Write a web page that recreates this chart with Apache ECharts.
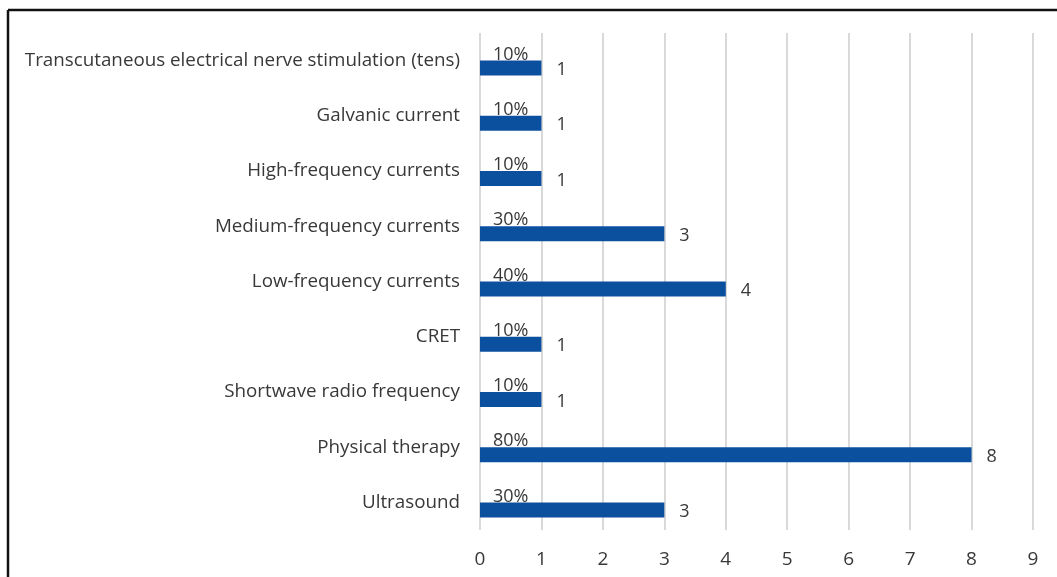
<!DOCTYPE html>
<html>
<head>
<meta charset="utf-8">
<script src="https://cdn.jsdelivr.net/npm/echarts@6/dist/echarts.min.js"></script>
<style>html,body{margin:0;padding:0;background:#fff}#c{width:1057px;height:577px}</style>
</head>
<body>
<div id="c"></div>
<script>
const categories = [
  "Transcutaneous electrical nerve stimulation (tens)",
  "Galvanic current",
  "High-frequency currents",
  "Medium-frequency currents",
  "Low-frequency currents",
  "CRET",
  "Shortwave radio frequency",
  "Physical therapy",
  "Ultrasound"
];
const counts = [1, 1, 1, 3, 4, 1, 1, 8, 3];
const percents = ["10%", "10%", "10%", "30%", "40%", "10%", "10%", "80%", "30%"];
const xTicks = [0, 1, 2, 3, 4, 5, 6, 7, 8, 9];

const FONT = "Open Sans";
const TXT = "#383838";
const chart = echarts.init(document.getElementById('c'));
chart.setOption({
  animation: false,
  backgroundColor: '#fff',
  textStyle: { fontFamily: FONT },
  grid: { left: 480, right: 24, top: 33, bottom: 47, containLabel: false },
  xAxis: {
    type: 'value', min: xTicks[0], max: xTicks[xTicks.length - 1], interval: 1,
    axisLine: { show: false }, axisTick: { show: false },
    splitLine: { show: true, lineStyle: { color: '#d9d9d9', width: 2 } },
    axisLabel: { color: TXT, fontSize: 19, fontFamily: FONT, margin: 20 }
  },
  yAxis: {
    type: 'category', data: categories, inverse: true,
    axisLine: { show: false }, axisTick: { show: false },
    axisLabel: { color: TXT, fontSize: 18.8, fontFamily: FONT, margin: 20 }
  },
  series: [
    {
      name: 'pct', type: 'bar', data: counts, barWidth: 15, silent: true,
      itemStyle: { color: 'rgba(0,0,0,0)' },
      label: {
        show: true, position: [13, 9], align: 'left', verticalAlign: 'middle',
        color: TXT, fontSize: 18, fontFamily: FONT,
        formatter: p => percents[p.dataIndex]
      }
    },
    {
      name: 'count', type: 'bar', data: counts, barWidth: 15, barGap: '0%',
      itemStyle: { color: '#0b4f9f' },
      label: { show: true, position: 'right', distance: 15, offset: [0, 2], color: TXT, fontSize: 18, fontFamily: FONT }
    }
  ],
  graphic: [
    { type: 'line', shape: { x1: 8, y1: 10, x2: 1057, y2: 10 }, style: { stroke: '#111', lineWidth: 2.5 } },
    { type: 'line', shape: { x1: 8, y1: 10, x2: 8, y2: 577 }, style: { stroke: '#111', lineWidth: 2.5 } }
  ]
});
</script>
</body>
</html>
